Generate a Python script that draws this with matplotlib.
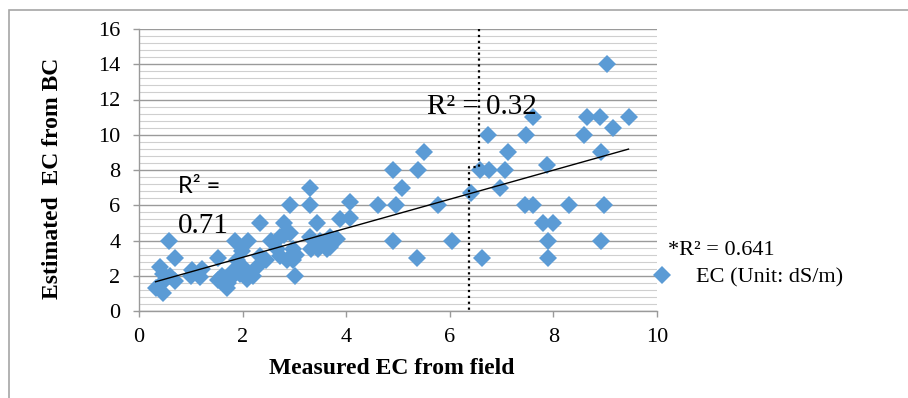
import matplotlib
matplotlib.use('Agg')
import matplotlib.pyplot as plt
import numpy as np
from matplotlib.patches import Rectangle

# Measured EC from field (x) and estimated EC from BC (y)
measured_ec = [
    0.32, 0.40, 0.44, 0.47, 0.47, 0.57, 0.60, 0.70, 0.70, 1.00,
    1.02, 1.18, 1.21, 1.53, 1.53, 1.60, 1.69, 1.72, 1.76, 1.80,
    1.85, 1.89, 1.95, 1.98, 2.05, 2.08, 2.11, 2.20, 2.27, 2.34,
    2.34, 2.46, 2.55, 2.66, 2.72, 2.72, 2.80, 2.79, 2.85, 2.92,
    2.92, 2.98, 2.98, 3.02, 3.04, 3.30, 3.30, 3.43, 3.30, 3.33,
    3.45, 3.49, 3.62, 3.69, 3.69, 3.75, 3.82, 3.88, 4.07, 4.07,
    4.62, 4.90, 4.97, 5.08, 5.39, 5.51, 5.78, 4.90, 5.37, 6.05,
    6.40, 6.63, 6.58, 6.75, 6.73, 6.97, 7.07, 7.13, 7.48, 7.60,
    7.87, 7.45, 7.60, 7.80, 8.00, 7.90, 7.90, 8.30, 8.60, 8.64,
    8.90, 8.92, 8.92, 8.98, 9.03, 9.16, 9.45,
]
estimated_ec = [
    1.3, 2.5, 1.6, 1.0, 2.1, 4.0, 2.0, 3.0, 1.7, 2.0,
    2.3, 1.95, 2.4, 3.0, 1.75, 2.0, 1.3, 1.6, 1.8, 2.2,
    4.0, 2.9, 2.1, 3.4, 2.4, 1.8, 4.0, 2.0, 2.5, 5.0,
    3.1, 2.9, 4.0, 3.5, 4.2, 3.1, 5.0, 4.3, 2.9, 6.0,
    4.4, 3.5, 2.9, 2.0, 3.2, 7.0, 6.0, 5.0, 4.2, 3.5,
    3.5, 4.0, 3.5, 4.2, 3.65, 4.0, 4.1, 5.2, 6.2, 5.3,
    6.0, 8.0, 6.0, 7.0, 8.0, 9.0, 6.0, 4.0, 3.0, 4.0,
    6.7, 3.0, 8.0, 8.0, 10.0, 7.0, 8.0, 9.0, 10.0, 11.0,
    8.3, 6.0, 6.0, 5.0, 5.0, 4.0, 3.0, 6.0, 10.0, 11.0,
    11.0, 9.0, 4.0, 6.0, 14.0, 10.4, 11.0,
]

# dotted divider between the two groups
split_upper_x = 6.56
split_lower_x = 6.37
split_step_y = 8.15

x_ticks = [0, 2, 4, 6, 8, 10]
y_ticks = [0, 2, 4, 6, 8, 10, 12, 14, 16]

blue = '#5b9bd5'
serif = ['Liberation Serif', 'DejaVu Serif']

fig = plt.figure(figsize=(9.08, 3.98), dpi=100)
ax = fig.add_axes([139 / 908, 1 - 311 / 398, (657 - 139) / 908, (311 - 29) / 398])

# grey frame around the chart (only top and left edges show)
fig.add_artist(Rectangle((9 / 908, -0.2), 1.5, 1.2 - 10 / 398, transform=fig.transFigure,
                         fill=False, edgecolor='#a6a6a6', lw=1.2))

# gridlines
ax.set_yticks(np.arange(0, 16.01, 0.4), minor=True)
ax.grid(axis='y', which='minor', color='#cfcfcf', lw=0.8)
ax.grid(axis='y', which='major', color='#9a9a9a', lw=1.0)
ax.set_axisbelow(True)

# scatter points
ax.plot(measured_ec, estimated_ec, linestyle='none', marker='D', ms=9.5,
        color=blue, markeredgewidth=0, label='EC (Unit: dS/m)', zorder=3)

# linear trendline over all points
slope, intercept = np.polyfit(measured_ec, estimated_ec, 1)
xs = np.array([min(measured_ec), max(measured_ec)])
ax.plot(xs, slope * xs + intercept, color='black', lw=1.0, zorder=4)

# dotted divider
ax.plot([split_upper_x, split_upper_x, split_lower_x, split_lower_x],
        [16, split_step_y, split_step_y, 0], color='black', ls=':', lw=1.6, zorder=4)

ax.text(0.75, 7.05, 'R² =', family=['Lato', 'DejaVu Sans'], fontsize=17,
        va='center', ha='left', zorder=5)
ax.text(0.75, 4.85, '0.71', family=serif, fontsize=21, va='center', ha='left', zorder=5)
ax.text(5.56, 11.6, 'R² = 0.32', family=serif, fontsize=21, va='center', ha='left', zorder=5)

ax.set_xlim(0, 10)
ax.set_ylim(0, 16)
ax.set_xticks(x_ticks)
ax.set_yticks(y_ticks)
ax.set_xticklabels([str(t) for t in x_ticks], family=serif, fontsize=16)
ax.set_yticklabels([str(t) for t in y_ticks], family=serif, fontsize=16)
ax.tick_params(axis='both', which='major', direction='out', length=4.5, width=1,
               color='#9a9a9a')
ax.tick_params(axis='y', which='major', pad=9)
ax.tick_params(axis='x', which='major', pad=8)
ax.tick_params(axis='y', which='minor', length=0)

for side in ['top', 'right']:
    ax.spines[side].set_visible(False)
for side in ['left', 'bottom']:
    ax.spines[side].set_color('#9a9a9a')
    ax.spines[side].set_linewidth(1)

fig.text(392 / 908, 1 - 369 / 398, 'Measured EC from field', family=serif,
         fontsize=17, fontweight='bold', ha='center', va='center')
fig.text(53 / 908, 1 - 178 / 398, 'Estimated  EC from BC', family=serif,
         fontsize=17, fontweight='bold', ha='center', va='center', rotation=90)

# legend-like block on the right
fig.text(668 / 908, 1 - 250 / 398, '*R² = 0.641', family=serif, fontsize=16,
         ha='left', va='center')
leg = fig.legend(loc='center left', bbox_to_anchor=(649 / 908, 1 - 277 / 398),
                 frameon=False, prop={'family': serif, 'size': 16},
                 handletextpad=0.9, borderpad=0, borderaxespad=0, handlelength=1.2)

fig.savefig('out.png', dpi=100)
